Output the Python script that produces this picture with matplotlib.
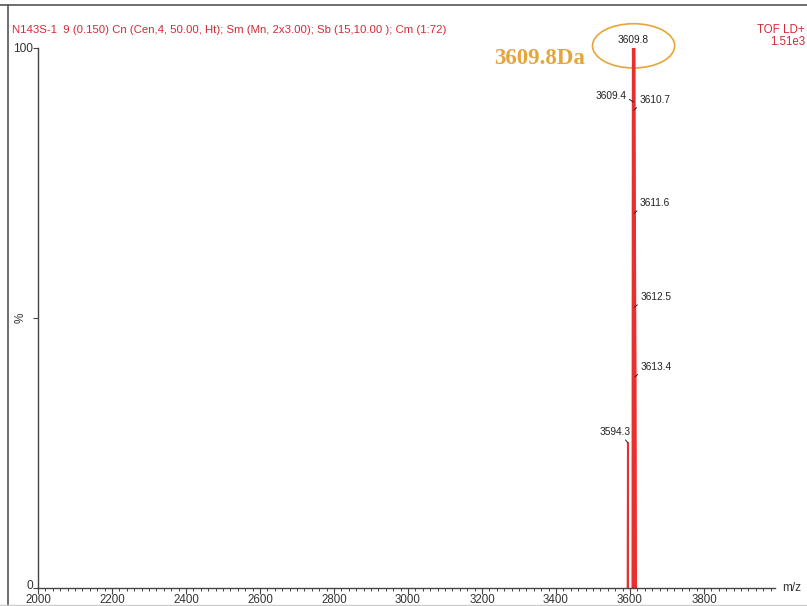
import matplotlib
matplotlib.use('Agg')
import matplotlib.pyplot as plt
import matplotlib.transforms as mtransforms
from matplotlib.patches import Ellipse
from matplotlib.lines import Line2D
from matplotlib.ticker import MultipleLocator

plt.rcParams['font.family'] = ['Liberation Sans', 'DejaVu Sans']

# Espectro TOF LD+ (perfil del pico molecular)
mz = [3593.5, 3594.3, 3595.0, 3608.6, 3609.4, 3609.8, 3610.7, 3611.6, 3612.5, 3613.4, 3614.6]
intensidad = [0, 26.9, 0, 0, 90.0, 100, 88.5, 69.4, 52.0, 39.1, 0]

# Picos etiquetados
picos_mz = [3609.8, 3609.4, 3610.7, 3611.6, 3612.5, 3613.4, 3594.3]
picos_int = [100, 90.0, 88.5, 69.4, 52.0, 39.1, 26.9]
picos_txt = ['3609.8', '3609.4', '3610.7', '3611.6', '3612.5', '3613.4', '3594.3']

x_ticks = [2000, 2200, 2400, 2600, 2800, 3000, 3200, 3400, 3600, 3800]

titulo = 'N143S-1  9 (0.150) Cn (Cen,4, 50.00, Ht); Sm (Mn, 2x3.00); Sb (15,10.00 ); Cm (1:72)'
rojo = '#d42a36'
rojo_pico = '#e8302f'
naranja = '#e6a53a'
gris = '#444444'

fig = plt.figure(figsize=(8.07, 6.06), dpi=100)
ax = fig.add_axes([38 / 807, 18 / 606, 737 / 807, 540 / 606])

ax.fill_between(mz, intensidad, 0, color=rojo_pico, lw=0)
ax.plot(mz[:3], intensidad[:3], color=rojo_pico, lw=1.3)
ax.plot(mz[3:], intensidad[3:], color=rojo_pico, lw=2.4)

ax.set_xlim(2000, 3992)
ax.set_ylim(0, 100)

for s in ['top', 'right']:
    ax.spines[s].set_visible(False)
for s in ['left', 'bottom']:
    ax.spines[s].set_color(gris)
    ax.spines[s].set_linewidth(1.0)

ax.set_xticks(x_ticks)
ax.set_xticklabels([str(t) for t in x_ticks])
ax.xaxis.set_minor_locator(MultipleLocator(20))
ax.tick_params(axis='x', which='major', length=4, width=0.8, color=gris,
               labelsize=8.3, labelcolor='#333333', pad=0)
ax.tick_params(axis='x', which='minor', length=2.5, width=0.7, color=gris)

ax.set_yticks([0, 50, 100])
ax.set_yticklabels(['0', '', '100'])
ax.tick_params(axis='y', length=3.5, width=0.8, color=gris,
               labelsize=8.6, labelcolor='#333333', pad=0)
ax.set_ylabel('%', fontsize=8.5, color='#333333')
ax.yaxis.set_label_coords(-11 / 737, 0.5)

# subir un poco el "0" para que no pise el "2000"
lbl0 = ax.get_yticklabels()[0]
lbl0.set_transform(lbl0.get_transform() +
                   mtransforms.ScaledTranslation(0, 2.5 / 72, fig.dpi_scale_trans))

ax.text(1.01, 0.0, 'm/z', transform=ax.transAxes, ha='left', va='center',
        fontsize=8.5, color='#333333')

# Etiquetas de los picos (dx, dy en puntos)
offsets = {
    '3609.8': (0, 2, 'center', 'bottom', None),
    '3609.4': (-5, 1, 'right', 'bottom', (1, 0.3)),
    '3610.7': (4, 3.5, 'left', 'bottom', (0, 0)),
    '3611.6': (4, 3.5, 'left', 'bottom', (0, 0)),
    '3612.5': (4, 3.5, 'left', 'bottom', (0, 0)),
    '3613.4': (4, 3.5, 'left', 'bottom', (0, 0)),
    '3594.3': (-9, 4, 'center', 'bottom', (0.75, 0)),
}
for x, y, t in zip(picos_mz, picos_int, picos_txt):
    dx, dy, ha, va, rel = offsets[t]
    if rel is None:
        ax.annotate(t, xy=(x, y), xytext=(dx, dy), textcoords='offset points',
                    ha=ha, va=va, fontsize=7.3, color='#222222',
                    annotation_clip=False)
    else:
        ax.annotate(t, xy=(x, y), xytext=(dx, dy), textcoords='offset points',
                    ha=ha, va=va, fontsize=7.3, color='#222222',
                    arrowprops=dict(arrowstyle='-', lw=0.7, color='#222222',
                                    shrinkA=0, shrinkB=0, relpos=rel))

# Resaltado del pico principal
ax.add_patch(Ellipse((3609.8, 100.4), 222, 8.2, fill=False, edgecolor=naranja,
                     lw=1.2, clip_on=False))
ax.text(3478, 98.1, '3609.8Da', ha='right', va='center', fontsize=16.5,
        fontweight='bold', color=naranja, family='Liberation Serif')

# Cabecera
fig.text(12 / 807, 1 - 30 / 606, titulo, ha='left', va='center',
         fontsize=8.2, color=rojo)
fig.text(805 / 807, 1 - 30 / 606, 'TOF LD+', ha='right', va='center',
         fontsize=8.3, color=rojo)
fig.text(805 / 807, 1 - 42 / 606, '1.51e3', ha='right', va='center',
         fontsize=8.3, color=rojo)

# Marco de la figura
fig.add_artist(Line2D([0, 1], [1 - 5 / 606] * 2, color='#555555', lw=1.2))
fig.add_artist(Line2D([8 / 807] * 2, [0, 1 - 5 / 606], color='#555555', lw=1.2))
fig.add_artist(Line2D([0, 1], [1.5 / 606] * 2, color='#cccccc', lw=1.0))

fig.savefig('out.png', dpi=100, facecolor='white')
